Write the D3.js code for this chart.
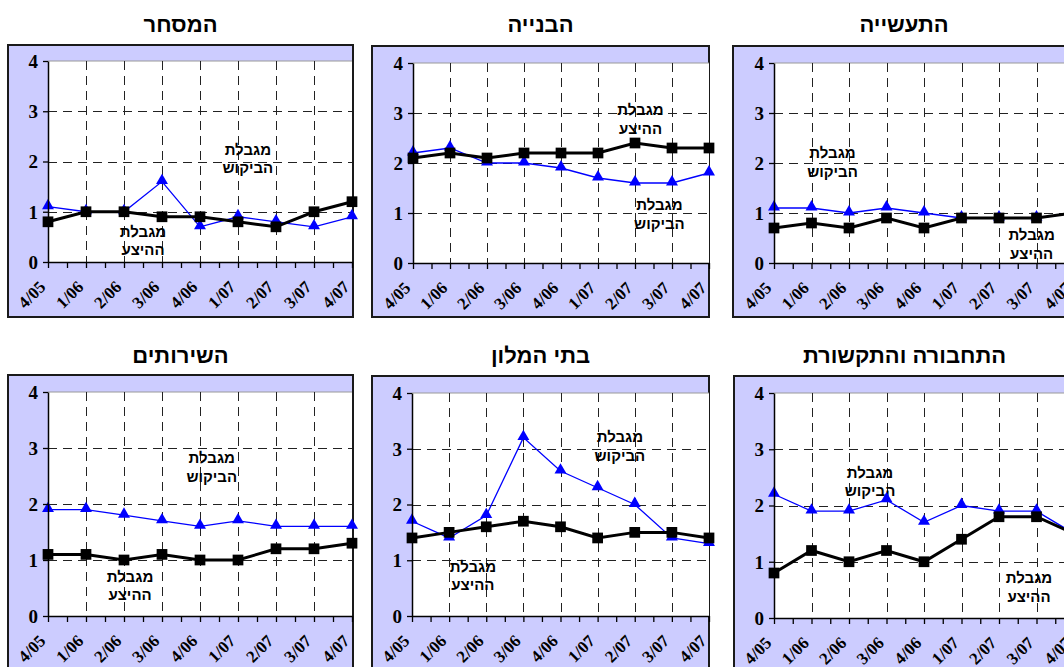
<!DOCTYPE html>
<html>
<head>
<meta charset="utf-8">
<script src="https://cdn.jsdelivr.net/npm/d3@7"></script>
<style>
  body { margin: 0; background: #ffffff; }
  svg { display: block; }
</style>
</head>
<body>
<svg id="chart" width="1064" height="667"></svg>
<script>
// Quarters on the horizontal axis and the value ticks on the vertical axis
const quarters = ["4/05", "1/06", "2/06", "3/06", "4/06", "1/07", "2/07", "3/07", "4/07"];
const yTicks = [0, 1, 2, 3, 4];

// Sector titles
const sectors = ["המסחר", "הבנייה", "התעשייה", "השירותים", "בתי המלון", "התחבורה והתקשורת"];

// Demand constraint (blue triangles) and supply constraint (black squares) per sector
const demandTrade        = [1.1, 1.0, 1.0, 1.6, 0.7, 0.9, 0.8, 0.7, 0.9];
const supplyTrade        = [0.8, 1.0, 1.0, 0.9, 0.9, 0.8, 0.7, 1.0, 1.2];
const demandConstruction = [2.2, 2.3, 2.0, 2.0, 1.9, 1.7, 1.6, 1.6, 1.8];
const supplyConstruction = [2.1, 2.2, 2.1, 2.2, 2.2, 2.2, 2.4, 2.3, 2.3];
const demandIndustry     = [1.1, 1.1, 1.0, 1.1, 1.0, 0.9, 0.9, 0.9, 1.0];
const supplyIndustry     = [0.7, 0.8, 0.7, 0.9, 0.7, 0.9, 0.9, 0.9, 1.0];
const demandServices     = [1.9, 1.9, 1.8, 1.7, 1.6, 1.7, 1.6, 1.6, 1.6];
const supplyServices     = [1.1, 1.1, 1.0, 1.1, 1.0, 1.0, 1.2, 1.2, 1.3];
const demandHotels       = [1.7, 1.4, 1.8, 3.2, 2.6, 2.3, 2.0, 1.4, 1.3];
const supplyHotels       = [1.4, 1.5, 1.6, 1.7, 1.6, 1.4, 1.5, 1.5, 1.4];
const demandTransport    = [2.2, 1.9, 1.9, 2.1, 1.7, 2.0, 1.9, 1.9, 1.5];
const supplyTransport    = [0.8, 1.2, 1.0, 1.2, 1.0, 1.4, 1.8, 1.8, 1.5];

// Series annotations
const demandNote = ["מגבלת", "הביקוש"];
const supplyNote = ["מגבלת", "ההיצע"];

// Panel layout: outer frame, plot area, and where each annotation sits (in quarter index / value units)
const panels = [
  { title: sectors[0], demand: demandTrade, supply: supplyTrade,
    frame: [8, 45, 353, 317], plot: [48, 61, 352, 262], titleY: 32,
    demandAt: [5.26, 2.13], supplyAt: [2.5, 0.5] },
  { title: sectors[1], demand: demandConstruction, supply: supplyConstruction,
    frame: [372, 46, 709, 317], plot: [413, 63, 709, 263], titleY: 32,
    demandAt: [6.66, 1.06], supplyAt: [6.15, 2.96] },
  { title: sectors[2], demand: demandIndustry, supply: supplyIndustry,
    frame: [733, 46, 1075, 317], plot: [774, 63, 1074, 263], titleY: 32,
    demandAt: [1.56, 2.1], supplyAt: [6.87, 0.46] },
  { title: sectors[3], demand: demandServices, supply: supplyServices,
    frame: [8, 375, 353, 672], plot: [48, 392, 352, 616], titleY: 363,
    demandAt: [4.31, 2.73], supplyAt: [2.16, 0.61] },
  { title: sectors[4], demand: demandHotels, supply: supplyHotels,
    frame: [372, 376, 709, 672], plot: [412, 393, 709, 616], titleY: 363,
    demandAt: [5.6, 3.12], supplyAt: [1.64, 0.79] },
  { title: sectors[5], demand: demandTransport, supply: supplyTransport,
    frame: [734, 376, 1075, 672], plot: [774, 393, 1074, 618], titleY: 363,
    demandAt: [2.56, 2.49], supplyAt: [6.8, 0.62] }
];

const svg = d3.select("#chart");
const SANS = "'Liberation Sans', Arial, sans-serif";
const SERIF = "'Liberation Serif', 'Times New Roman', serif";

function drawPanel(p) {
  const [fx0, fy0, fx1, fy1] = p.frame;
  const [px0, py0, px1, py1] = p.plot;
  const g = svg.append("g");

  const x = d3.scaleLinear().domain([0, quarters.length - 1]).range([px0, px1]);
  const y = d3.scaleLinear().domain([0, 4]).range([py1, py0]);

  // Title
  g.append("text")
    .attr("x", (fx0 + fx1) / 2).attr("y", p.titleY)
    .attr("text-anchor", "middle")
    .attr("direction", "rtl")
    .attr("font-family", SANS).attr("font-weight", "bold").attr("font-size", 22)
    .text(p.title);

  // Outer frame
  g.append("rect")
    .attr("x", fx0).attr("y", fy0).attr("width", fx1 - fx0).attr("height", fy1 - fy0)
    .attr("fill", "#ccccff").attr("stroke", "#1a1a1a").attr("stroke-width", 2);

  // Plot area
  g.append("rect")
    .attr("x", px0).attr("y", py0).attr("width", px1 - px0).attr("height", py1 - py0)
    .attr("fill", "#ffffff");

  // Top boundary
  g.append("line")
    .attr("x1", px0).attr("x2", px1).attr("y1", y(4)).attr("y2", y(4))
    .attr("stroke", "#9a9a9a").attr("stroke-width", 1.2);

  // Horizontal dashed grid
  g.append("g").selectAll("line")
    .data(yTicks.filter(v => v > 0 && v < 4))
    .join("line")
    .attr("x1", px0).attr("x2", px1)
    .attr("y1", d => Math.round(y(d)) + 0.5).attr("y2", d => Math.round(y(d)) + 0.5)
    .attr("stroke", "#222").attr("stroke-width", 1).attr("stroke-dasharray", "9,6");

  // Vertical dashed grid
  g.append("g").selectAll("line")
    .data(d3.range(1, quarters.length - 1))
    .join("line")
    .attr("x1", d => Math.round(x(d)) + 0.5).attr("x2", d => Math.round(x(d)) + 0.5)
    .attr("y1", py0).attr("y2", py1)
    .attr("stroke", "#222").attr("stroke-width", 1).attr("stroke-dasharray", "9,6");

  // Annotations
  function note(lines, at) {
    const t = g.append("text")
      .attr("text-anchor", "middle")
      .attr("direction", "rtl")
      .attr("font-family", SANS).attr("font-weight", "bold").attr("font-size", 15)
      .attr("fill", "#000");
    lines.forEach((s, i) => {
      t.append("tspan")
        .attr("x", x(at[0]))
        .attr("y", y(at[1]) + i * 18.5)
        .text(s);
    });
  }
  note(demandNote, p.demandAt);
  note(supplyNote, p.supplyAt);

  // Demand series
  const line = d3.line().x((d, i) => x(i)).y(d => y(d));
  g.append("path").datum(p.demand)
    .attr("d", line).attr("fill", "none")
    .attr("stroke", "#0000ff").attr("stroke-width", 1.3);
  g.append("g").selectAll("path")
    .data(p.demand)
    .join("path")
    .attr("transform", (d, i) => `translate(${x(i)},${y(d) - 1})`)
    .attr("d", d3.symbol(d3.symbolTriangle, 62))
    .attr("fill", "#0000ff");

  // Supply series
  g.append("path").datum(p.supply)
    .attr("d", line).attr("fill", "none")
    .attr("stroke", "#000").attr("stroke-width", 3).attr("stroke-linejoin", "miter");
  g.append("g").selectAll("path")
    .data(p.supply)
    .join("path")
    .attr("transform", (d, i) => `translate(${x(i)},${y(d)})`)
    .attr("d", d3.symbol(d3.symbolSquare, 115))
    .attr("fill", "#000");

  // Vertical axis
  const yAxis = g.append("g")
    .attr("transform", `translate(${px0},0)`)
    .call(d3.axisLeft(y).tickValues(yTicks).tickFormat(d3.format("d")).tickSize(5).tickSizeOuter(0).tickPadding(5));
  yAxis.attr("font-family", SERIF).attr("font-size", 19).attr("font-weight", "bold");
  yAxis.select(".domain").attr("stroke", "#000").attr("stroke-width", 1.5);
  yAxis.selectAll(".tick line").attr("stroke", "#000").attr("stroke-width", 1.3);
  yAxis.selectAll("text").attr("fill", "#000").attr("dy", "0.34em");

  // Horizontal axis: minor ticks between quarters
  const minor = g.append("g")
    .attr("transform", `translate(0,${py1})`)
    .call(d3.axisBottom(x).tickValues(d3.range(0, quarters.length - 0.5, 0.5)).tickFormat("").tickSize(6).tickSizeOuter(0));
  minor.select(".domain").attr("stroke", "#000").attr("stroke-width", 1.5);
  minor.selectAll(".tick line").attr("stroke", "#000").attr("stroke-width", 1.3);

  // Horizontal axis: quarter labels
  const xAxis = g.append("g")
    .attr("transform", `translate(0,${py1})`)
    .call(d3.axisBottom(x).tickValues(d3.range(quarters.length)).tickFormat(i => quarters[i]).tickSize(0));
  xAxis.attr("font-family", SERIF).attr("font-size", 17).attr("font-weight", "bold");
  xAxis.select(".domain").remove();
  xAxis.selectAll("text")
    .attr("x", 0).attr("y", 0).attr("dy", 0)
    .attr("text-anchor", "end")
    .attr("transform", "translate(-2,26) rotate(-45)")
    .attr("fill", "#000");
}

panels.forEach(drawPanel);
</script>
</body>
</html>
